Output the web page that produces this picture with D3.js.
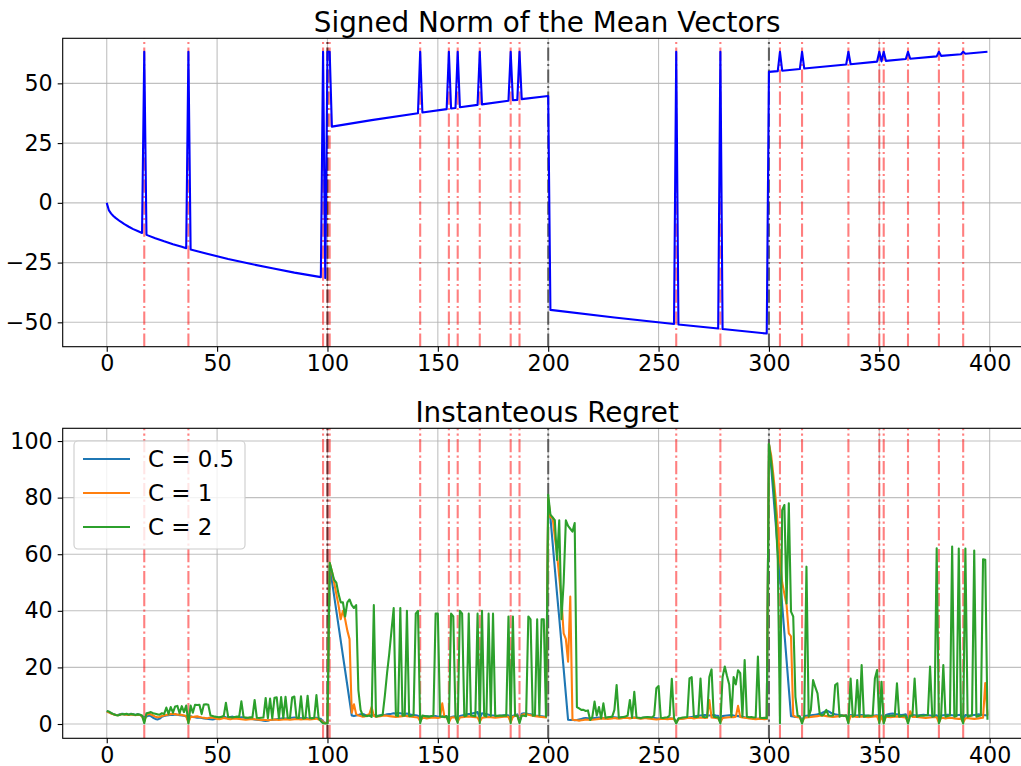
<!DOCTYPE html>
<html>
<head>
<meta charset="utf-8">
<script src="https://cdn.jsdelivr.net/npm/d3@7"></script>
<style>
  body { margin: 0; background: #fff; }
  svg { display: block; font-family: "DejaVu Sans", sans-serif; }
</style>
</head>
<body>
<div id="chart"></div>
<script>
// Signed norm of the mean vectors: [step, value]
const normSteps = [0,1,2,3,4,6,8,10,12,14,16,17,18,22,26,30,34,36,37,38,45,55,65,75,85,97,98,99,100,101,102,120,141,142,143,154,155,156,158,159,160,168,169,170,182,183,184,186,187,188,199,200,201,230,257,258,259,277,278,279,299,300,304,305,306,314,315,316,335,336,337,349,350,351,352,353,362,363,364,376,377,378,387,388,389,399];
const normValues = [0,-3.2,-4.5,-5.5,-6.3,-7.7,-8.9,-10,-11,-11.8,-12.6,63.2,-13.4,-14.8,-16.1,-17.3,-18.4,-19,63.2,-19.5,-21.2,-23.5,-25.5,-27.4,-29.2,-31.1,63.2,-31.5,63.2,63.2,31.9,34.6,37.5,63.2,37.8,39.2,63.2,39.5,39.7,63.2,40,41,63.2,41.2,42.7,63.2,42.9,43.1,63.2,43.4,44.6,44.7,-44.8,-48,-50.7,63.2,-50.9,-52.6,63.2,-52.8,-54.7,54.8,55.1,63.2,55.3,56,63.2,56.2,57.9,63.2,58,59.1,63.2,59.2,63.2,59.4,60.2,63.2,60.3,61.3,63.2,61.5,62.2,63.2,62.4,63.2];

// Instantaneous regret per step (index = step)
const regretC05 = [
  4.5,4.2,3.8,3.5,3.3,3.2,3.4,3.6,3.5,3.4,3.3,3.6,3.4,3.2,3.5,3.3,2.8,2.4,2.6,3.0,
  2.8,2.2,1.8,1.6,1.9,2.6,2.8,3.0,3.1,3.3,3.2,3.4,3.3,3.1,3.0,2.9,2.8,1.0,2.7,2.5,
  2.4,2.2,2.3,2.1,2.0,1.9,1.8,1.7,1.6,1.8,2.0,2.2,2.5,2.6,2.4,2.3,2.5,2.6,2.4,2.3,
  2.2,2.4,2.3,2.1,2.0,1.9,1.8,1.6,1.5,1.4,1.3,1.2,1.1,1.2,1.4,1.5,1.6,1.7,1.8,1.9,
  2.0,1.9,2.0,2.1,2.2,2.3,2.2,2.1,2.0,2.1,2.2,2.0,1.9,2.0,2.1,2.2,1.9,1.8,0.8,0.4,
  0.3,56,50.7,45.4,40.1,34.8,29.5,24.2,18.9,13.6,8.3,3.0,2.8,3.0,3.2,3.4,3.5,3.3,3.2,3.0,
  3.1,3.2,3.0,2.9,3.1,3.3,3.2,3.4,3.5,3.6,3.8,3.7,3.9,3.8,3.6,3.5,3.7,3.4,3.3,3.2,
  3.1,2.9,1.5,2.6,2.8,2.7,2.6,2.5,2.7,2.8,2.6,2.5,2.6,2.7,2.8,1.0,2.5,2.6,2.7,1.2,
  2.8,3.0,3.2,3.4,3.5,3.6,3.8,4.0,4.2,2.0,3.8,3.6,3.5,3.3,3.1,3.0,2.9,2.8,2.9,3.0,
  3.1,3.2,3.0,1.0,2.9,3.1,3.4,1.2,3.6,3.8,3.7,3.5,3.4,3.2,3.0,2.9,2.8,2.7,2.6,2.5,
  76,73,64,55,46,37.5,28.5,19.5,10.5,1.5,1.4,1.5,1.3,1.4,1.6,1.8,2.0,2.1,2.0,1.9,
  2.0,2.1,2.2,2.3,2.2,2.1,2.0,2.2,2.4,2.5,2.4,2.3,2.2,2.3,2.4,2.3,2.2,2.1,2.2,2.3,
  2.2,2.1,2.0,2.2,2.3,2.4,2.3,2.2,2.1,2.0,1.9,1.8,1.9,2.0,2.1,2.0,1.9,1.8,0.5,1.8,
  1.9,2.0,2.1,2.2,2.4,2.5,2.6,2.8,2.9,3.0,3.1,3.2,3.1,3.0,3.1,3.2,3.0,2.9,1.0,2.8,
  2.9,3.0,3.1,3.2,3.0,2.9,2.8,2.7,2.6,2.4,2.3,2.2,2.1,2.0,1.9,1.8,1.9,2.0,1.9,1.8,
  99,91,81.2,71.4,61.6,51.8,42,32.2,22.4,12.6,2.8,2.7,2.5,2.6,2.7,1.0,2.8,2.9,3.0,3.1,
  3.2,3.3,3.4,3.6,3.9,4.3,4.7,4.5,4.0,3.6,3.4,3.3,3.2,3.1,3.0,3.1,1.5,3.2,3.1,3.0,
  3.0,3.1,3.2,3.1,3.0,2.9,2.8,2.9,3.0,3.1,1.5,3.0,1.2,3.2,3.4,3.6,3.7,3.5,3.4,3.3,
  3.2,3.3,3.4,1.5,3.3,3.2,3.1,3.0,3.1,3.2,3.3,3.2,3.1,3.0,2.9,3.0,3.1,1.2,3.0,3.1,
  3.2,3.3,3.2,3.1,3.0,3.1,3.2,3.3,1.5,3.2,3.1,3.0,3.1,3.2,3.3,3.4,3.3,3.2,3.1,3.0
];
const regretC1 = [
  4.3,4.1,3.7,3.4,3.2,3.1,3.3,3.5,3.4,3.3,3.2,3.4,3.3,3.1,3.3,3.2,2.7,1.0,3.2,3.6,
  3.4,3.0,2.6,2.4,2.5,2.8,3.0,3.2,3.4,3.5,3.6,3.5,3.3,3.4,3.2,3.0,2.8,0.5,2.6,2.5,
  2.6,2.7,2.5,2.3,2.2,2.0,2.1,2.3,2.2,2.0,1.8,1.7,1.9,2.1,2.0,1.8,1.7,1.9,2.0,1.9,
  1.8,1.7,1.6,1.5,1.6,1.7,1.8,1.7,1.6,1.5,1.4,1.5,1.4,1.3,1.4,1.5,1.6,1.5,1.4,1.5,
  1.6,1.7,1.6,1.5,1.6,1.7,1.8,1.7,1.6,1.7,1.8,1.7,1.6,1.7,1.8,1.9,1.6,1.3,0.6,0.3,
  0.3,57,54,50,46,42,37,40,37,33,30,4.0,7.0,3.5,3.0,2.8,2.6,2.7,3.2,3.5,
  6.0,2.8,2.6,2.7,2.8,2.9,3.0,2.9,2.8,2.7,2.6,2.5,2.6,2.7,2.8,2.9,2.8,2.7,2.6,2.5,
  2.4,2.3,1.0,2.2,2.1,2.0,2.1,2.2,2.3,2.2,2.1,2.3,7.3,2.4,2.5,0.5,2.3,2.4,2.2,0.8,
  2.3,2.4,2.5,2.6,2.7,2.6,2.5,2.4,2.3,0.8,2.2,2.3,2.4,2.5,2.4,2.3,2.2,2.3,2.4,2.5,
  2.6,2.7,2.5,0.6,2.6,2.8,3.0,0.8,3.2,3.4,3.5,3.3,3.1,2.9,2.8,2.7,2.6,2.5,2.4,2.3,
  80,73,73,66,60,52,44,32,30,22,45,1.5,1.4,1.3,1.2,1.3,1.4,1.6,1.5,1.4,
  1.5,1.6,1.7,1.8,1.9,2.0,1.9,1.8,1.9,2.0,2.1,2.0,1.9,2.0,2.1,2.2,2.1,2.0,2.1,2.2,
  2.1,2.0,1.9,2.0,2.1,2.0,1.9,1.8,1.7,1.6,1.7,1.8,1.9,1.8,1.7,1.8,1.9,1.8,0.5,1.7,
  1.8,1.9,2.0,2.1,2.2,2.1,2.0,2.1,2.2,2.3,2.2,2.1,2.2,8.5,2.3,2.2,2.1,2.0,0.6,2.1,
  2.2,2.3,2.4,2.5,2.4,2.6,6.4,2.5,2.3,2.2,2.1,2.0,1.9,1.8,1.7,1.8,1.9,1.8,1.7,1.8,
  99,95,88,80,70,58,50,46,42,32,31,3.0,2.6,2.4,2.3,0.5,2.2,2.3,2.4,2.5,
  2.6,2.7,2.8,2.9,3.0,2.9,2.8,2.7,2.6,2.5,2.6,2.7,2.8,2.9,3.0,2.9,0.6,2.8,2.7,2.6,
  2.5,2.6,2.7,2.6,2.5,2.4,2.5,2.6,2.7,2.8,0.6,2.7,0.5,2.6,2.5,2.4,2.5,2.6,2.7,2.6,
  2.5,2.4,2.3,0.6,4.5,2.5,2.6,2.5,2.4,2.3,2.2,2.1,2.2,2.3,2.4,2.5,2.4,0.5,2.2,2.1,
  2.0,2.1,2.2,2.1,2.0,1.9,1.8,1.9,0.5,2.0,2.1,2.0,1.9,1.8,1.9,2.0,2.1,2.2,14.5,3.0
];
const regretC2 = [
  4.6,4.4,3.9,3.5,3.2,3.0,3.3,3.5,3.4,3.6,3.3,3.5,3.4,3.2,3.4,3.3,3.0,0.3,3.8,4.0,
  4.2,3.8,3.6,3.4,3.3,3.8,3.5,5.8,3.6,6.0,4.0,6.2,6.4,3.8,6.3,4.2,6.5,0.2,6.5,4.0,
  6.8,6.7,6.8,3.5,6.9,7.0,6.8,3.0,2.8,2.6,2.5,2.4,2.6,2.8,7.5,2.5,2.4,2.3,2.5,2.6,
  2.5,8.0,2.4,2.3,2.2,2.4,2.3,8.5,2.2,2.1,2.2,2.3,9.2,2.1,9.0,2.0,9.3,9.4,2.0,9.5,
  2.1,9.6,2.2,2.1,9.4,9.7,2.2,2.1,9.8,2.0,2.1,10.0,2.1,2.0,2.2,10.2,2.0,1.0,0.3,0.2,
  0.3,57,54,51,50,46,43,43,38,43,44,42,41,42,12,5.0,3.0,2.9,2.8,3.0,
  2.5,42,2.6,2.8,3.0,3.2,10,18,25,33,41,3.0,2.8,41,2.9,3.0,40,2.8,2.9,3.1,
  39,40,0.3,3.0,2.8,2.7,2.6,2.8,2.9,39,39,2.7,2.6,2.5,2.7,0.3,39,38,2.6,0.4,
  40,39,2.8,2.9,39,3.0,2.9,2.8,39,0.3,40,2.9,2.7,39,2.8,39,2.8,2.9,3.0,2.9,
  3.0,2.9,38,0.3,38,2.9,3.0,0.3,3.0,2.9,2.8,38,37,2.9,3.0,37,3.0,37,37,2.6,
  81,74,73,72,58,72,37,50,72,70,69,68,71,6.0,5.5,5.0,5.0,4.6,4.8,1.4,
  2.5,7.9,3.0,6.0,2.0,7.3,2.2,2.4,2.5,2.6,5.0,13.8,2.2,2.4,2.5,2.6,3.0,8.5,2.2,11.4,
  2.3,2.2,2.1,2.3,2.4,2.5,2.4,2.3,3.0,12.6,13.4,2.2,2.1,2.3,2.4,3.0,16,2.2,0.2,2.0,
  2.1,2.3,2.4,2.5,16.1,16.6,2.6,2.5,2.6,16.1,2.6,2.4,2.5,16.6,19.3,2.6,2.4,2.4,0.2,16.6,
  20.3,17,14,2.6,16.6,14,19,18,2.6,22.6,2.6,2.4,2.5,2.3,2.4,23.8,2.2,2.1,2.2,2.1,
  99,93,85,75,58,0.3,75.6,77.4,42.6,78,39.7,38,9.6,3.0,2.6,0.2,3.0,55.6,2.6,5.0,
  15.5,13,10.8,3.6,3.0,3.5,5.0,3.0,2.9,3.0,13.8,14.4,2.6,3.0,2.8,3.0,0.2,16.1,2.6,3.0,
  15.5,2.6,20.8,2.6,2.8,3.0,2.9,3.0,16.1,19.1,0.2,14.9,0.2,3.0,2.8,2.9,3.0,2.8,14.4,2.6,
  2.8,3.0,2.9,0.2,3.0,2.9,16.1,2.6,2.8,3.0,2.9,3.0,3.1,20.3,2.6,2.8,62.1,0.2,2.8,20.8,
  2.6,2.8,3.0,62.7,2.6,2.8,62,2.6,0.2,62,2.6,2.8,3.0,61.3,2.6,2.8,3.0,58.2,58,1.5
];

// detected change points (red) and true change points (black)
const detectedChanges = [17,37,98,100,101,142,155,159,169,183,187,258,278,305,315,336,350,352,363,377,388];
const trueChanges = [100,200,300];

const xTicks = [0,50,100,150,200,250,300,350,400];
const normTicks = [-50,-25,0,25,50];
const regretTicks = [0,20,40,60,80,100];

const seriesNames = ["C = 0.5", "C = 1", "C = 2"];
const seriesColors = ["#1f77b4", "#ff7f0e", "#2ca02c"];

const width = 1021, height = 766;
const dashDot = "13.3,3.3,2.1,3.3";

const svg = d3.select("#chart").append("svg")
  .attr("width", width)
  .attr("height", height);

// shared x scale (axes run past the right edge of the picture)
const x = d3.scaleLinear().domain([-19.95, 418.95]).range([62.7, 1031.5]);

function panel(top, bottom, yDomain, yTicks, title, id) {
  const y = d3.scaleLinear().domain(yDomain).range([bottom, top]);
  const g = svg.append("g");

  g.append("clipPath").attr("id", id)
    .append("rect")
    .attr("x", x.range()[0]).attr("y", top)
    .attr("width", x.range()[1] - x.range()[0]).attr("height", bottom - top);

  // grid
  g.append("g").selectAll("line")
    .data(xTicks).join("line")
    .attr("x1", d => x(d)).attr("x2", d => x(d))
    .attr("y1", top).attr("y2", bottom)
    .attr("stroke", "#b0b0b0").attr("stroke-width", 1.1).attr("stroke-opacity", 0.8);
  g.append("g").selectAll("line")
    .data(yTicks).join("line")
    .attr("x1", x.range()[0]).attr("x2", x.range()[1])
    .attr("y1", d => y(d)).attr("y2", d => y(d))
    .attr("stroke", "#b0b0b0").attr("stroke-width", 1.1).attr("stroke-opacity", 0.8);

  const plot = g.append("g").attr("clip-path", `url(#${id})`);

  // axes
  const xAxis = g.append("g")
    .attr("transform", `translate(0,${bottom})`)
    .call(d3.axisBottom(x).tickValues(xTicks).tickSize(5).tickPadding(4).tickSizeOuter(0));
  const yAxis = g.append("g")
    .attr("transform", `translate(${x.range()[0]},0)`)
    .call(d3.axisLeft(y).tickValues(yTicks).tickSize(5).tickPadding(5).tickSizeOuter(0));
  [xAxis, yAxis].forEach(a => {
    a.select(".domain").remove();
    a.selectAll("line").attr("stroke", "#000").attr("stroke-width", 1.1);
    a.selectAll("text")
      .attr("fill", "#000")
      .style("font-family", '"DejaVu Sans", sans-serif')
      .style("font-size", "22.2px");
  });

  // spines
  g.append("rect")
    .attr("x", x.range()[0]).attr("y", top)
    .attr("width", x.range()[1] - x.range()[0]).attr("height", bottom - top)
    .attr("fill", "none").attr("stroke", "#000").attr("stroke-width", 1.1);

  g.append("text")
    .attr("x", (x.range()[0] + x.range()[1]) / 2)
    .attr("y", top - 6.8)
    .attr("text-anchor", "middle")
    .style("font-size", "27.8px")
    .text(title);

  return { y, plot };
}

function changeLines(plot, y) {
  const [y0, y1] = y.range();
  plot.append("g").selectAll("line")
    .data(detectedChanges).join("line")
    .attr("x1", d => x(d)).attr("x2", d => x(d))
    .attr("y1", y0).attr("y2", y1)
    .attr("stroke", "red").attr("stroke-opacity", 0.5)
    .attr("stroke-width", 2.1).attr("stroke-dasharray", dashDot);
  plot.append("g").selectAll("line")
    .data(trueChanges).join("line")
    .attr("x1", d => x(d)).attr("x2", d => x(d))
    .attr("y1", y0).attr("y2", y1)
    .attr("stroke", "#000").attr("stroke-opacity", 0.55)
    .attr("stroke-width", 2.1).attr("stroke-dasharray", dashDot);
}

// top panel
const normPanel = panel(38.3, 346.7, [-60.2, 68.85], normTicks, "Signed Norm of the Mean Vectors", "clipTop");
changeLines(normPanel.plot, normPanel.y);
const normLine = d3.line()
  .x((d, i) => x(normSteps[i]))
  .y(d => normPanel.y(d));
normPanel.plot.append("path")
  .datum(normValues)
  .attr("d", normLine)
  .attr("fill", "none")
  .attr("stroke", "#0000ff")
  .attr("stroke-width", 2.1)
  .attr("stroke-linejoin", "round");

// bottom panel
const regretPanel = panel(428.3, 738.3, [-5.05, 104.5], regretTicks, "Instanteous Regret", "clipBottom");
changeLines(regretPanel.plot, regretPanel.y);
const regretLine = d3.line()
  .x((d, i) => x(i))
  .y(d => regretPanel.y(d));
[regretC05, regretC1, regretC2].forEach((s, k) => {
  regretPanel.plot.append("path")
    .datum(s)
    .attr("d", regretLine)
    .attr("fill", "none")
    .attr("stroke", seriesColors[k])
    .attr("stroke-width", 2.1)
    .attr("stroke-linejoin", "round");
});

// legend
const legend = svg.append("g");
legend.append("rect")
  .attr("x", 74).attr("y", 441).attr("width", 171).attr("height", 108)
  .attr("rx", 4)
  .attr("fill", "#fff").attr("fill-opacity", 0.8)
  .attr("stroke", "#cccccc").attr("stroke-width", 1.1);
seriesNames.forEach((name, k) => {
  const ly = 459 + k * 34;
  legend.append("line")
    .attr("x1", 83).attr("x2", 130)
    .attr("y1", ly).attr("y2", ly)
    .attr("stroke", seriesColors[k]).attr("stroke-width", 2.1);
  legend.append("text")
    .attr("x", 148).attr("y", ly)
    .attr("dy", "0.35em")
    .style("font-size", "22.9px")
    .text(name);
});
</script>
</body>
</html>
